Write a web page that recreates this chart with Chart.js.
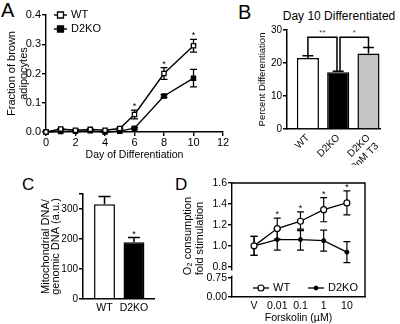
<!DOCTYPE html>
<html>
<head>
<meta charset="utf-8">
<script src="https://cdn.jsdelivr.net/npm/chart.js@4.4.1/dist/chart.umd.min.js"></script>
<style>
  body { margin: 0; background: #fff; }
  #fig { position: relative; width: 400px; height: 324px; overflow: hidden;
         font-family: 'Liberation Sans', Arial, Helvetica, sans-serif; color: #000; }
  #fig canvas { position: absolute; }
  .panel { position: absolute; line-height: 1; }
</style>
</head>
<body>
<div id="fig">
  <div class="panel" style="left:1px;top:0px;font-size:20px">A</div>
  <div class="panel" style="left:238px;top:2px;font-size:20px">B</div>
  <div class="panel" style="left:22px;top:176px;font-size:17px">C</div>
  <div class="panel" style="left:175px;top:176px;font-size:17px">D</div>
  <div class="panel" style="left:279px;top:10px;width:120px;text-align:center;font-size:12px">Day 10 Differentiated</div>
  <canvas id="cA" width="232" height="162" style="left:0;top:0"></canvas>
  <canvas id="cB" width="154" height="165" style="left:246px;top:0"></canvas>
  <canvas id="cC" width="170" height="159" style="left:0;top:165px"></canvas>
  <canvas id="cD" width="230" height="159" style="left:170px;top:165px"></canvas>
</div>
<script>
// ---- panel A: fraction of brown adipocytes over the differentiation time course
const aDays = [0, 1, 2, 3, 4, 5, 6, 8, 10];
const aWT = [0.000, 0.010, 0.006, 0.009, 0.006, 0.012, 0.060, 0.200, 0.295];
const aWTerr = [0, 0.002, 0.002, 0.002, 0.002, 0.002, 0.015, 0.020, 0.022];
const aKO = [0.000, 0.002, 0.003, 0.004, 0.000, 0.003, 0.013, 0.123, 0.184];
const aKOerr = [0, 0.001, 0.001, 0.001, 0.001, 0.001, 0.003, 0.005, 0.030];
const aStars = ['', '', '', '', '', '', '*', '*', '*'];
const aXTicks = [0, 2, 4, 6, 8, 10, 12];
const aYTicks = [0, 0.1, 0.2, 0.3, 0.4];

// ---- panel B: day 10 percent differentiation
const bGroups = ['WT', 'D2KO', ['D2KO', '+ 50nM T3']];
const bValues = [21.5, 17.2, 22.9];
const bErr = [0.7, 0.3, 1.8];
const bYTicks = [0, 10, 20, 30];
const bPairs = [[0, 1, '**'], [1, 2, '*']];
const bPairLevel = 27.8;

// ---- panel C: mitochondrial / genomic DNA
const cGroups = ['WT', 'D2KO'];
const cValues = [316, 189];
const cErr = [26, 16];
const cStars = ['', '*'];
const cYTicks = [0, 100, 200, 300, 350];

// ---- panel D: O2 consumption vs forskolin
const dDoses = ['V', '0.01', '0.1', '1', '10'];
const dWT = [1.00, 1.165, 1.235, 1.345, 1.41];
const dWTerr = [0.09, 0.10, 0.09, 0.115, 0.115];
const dKO = [1.00, 1.06, 1.06, 1.05, 0.94];
const dKOerr = [0.09, 0.10, 0.10, 0.10, 0.10];
const dStars = ['', '*', '*', '*', '*'];
const dYTicks = [0.8, 1.0, 1.2, 1.4, 1.6];
const dYLowTicks = [0, 0.75];
const dBreak = [0.765, 0.84];

Chart.defaults.font.family = "'Liberation Sans', Arial, Helvetica, sans-serif";
Chart.defaults.color = '#000';
Chart.defaults.animation = false;
Chart.defaults.plugins.legend.display = false;
Chart.defaults.plugins.tooltip.enabled = false;

const black = '#000';

function setTicks(list) {
  return s => { s.ticks = list.map(v => ({ value: v })); };
}

// error bars under the marks, stars above them
function marks(o) {
  return {
    id: 'marks',
    beforeDatasetsDraw(chart) {
      const ctx = chart.ctx;
      ctx.save();
      ctx.strokeStyle = black;
      ctx.lineWidth = o.lineWidth;
      o.errors.forEach((errs, di) => {
        const meta = chart.getDatasetMeta(di);
        const ys = chart.scales[meta.yAxisID];
        meta.data.forEach((pt, i) => {
          const e = errs[i];
          if (!e) return;
          const v = chart.data.datasets[di].data[i].y;
          const top = ys.getPixelForValue(v + e);
          const bot = o.upOnly ? ys.getPixelForValue(v) : ys.getPixelForValue(v - e);
          const w = o.cap / 2;
          ctx.beginPath();
          ctx.moveTo(pt.x, bot); ctx.lineTo(pt.x, top);
          ctx.moveTo(pt.x - w, top); ctx.lineTo(pt.x + w, top);
          if (!o.upOnly) { ctx.moveTo(pt.x - w, bot); ctx.lineTo(pt.x + w, bot); }
          ctx.stroke();
        });
      });
      ctx.restore();
    },
    afterDatasetsDraw(chart) {
      if (!o.stars) return;
      const ctx = chart.ctx;
      const di = o.starSet;
      const meta = chart.getDatasetMeta(di);
      const ys = chart.scales[meta.yAxisID];
      ctx.save();
      ctx.fillStyle = black;
      ctx.font = o.starFont;
      ctx.textAlign = 'center';
      ctx.textBaseline = 'alphabetic';
      meta.data.forEach((pt, i) => {
        if (!o.stars[i]) return;
        const v = chart.data.datasets[di].data[i].y + (o.errors[di][i] || 0);
        ctx.fillText(o.stars[i], pt.x, ys.getPixelForValue(v) - o.starGap);
      });
      ctx.restore();
    }
  };
}

// small legend drawn inside the plot area
function innerLegend(o) {
  return {
    id: 'innerLegend',
    afterDraw(chart) {
      const ctx = chart.ctx, a = chart.chartArea;
      ctx.save();
      ctx.font = o.font;
      ctx.textBaseline = 'middle';
      ctx.fillStyle = black;
      chart.data.datasets.forEach((ds, i) => {
        const x = a.left + o.dx + i * o.stepX;
        const y = (o.fromBottom ? a.bottom : a.top) + o.dy + i * o.stepY;
        ctx.strokeStyle = black;
        ctx.lineWidth = ds.borderWidth;
        ctx.beginPath(); ctx.moveTo(x, y); ctx.lineTo(x + o.len, y); ctx.stroke();
        const mx = x + o.len / 2, r = ds.pointRadius;
        ctx.lineWidth = ds.pointBorderWidth;
        ctx.fillStyle = ds.pointBackgroundColor;
        ctx.beginPath();
        if (ds.pointStyle === 'rect') ctx.rect(mx - r, y - r, 2 * r, 2 * r);
        else ctx.arc(mx, y, r, 0, Math.PI * 2);
        ctx.fill(); ctx.stroke();
        ctx.fillStyle = black;
        ctx.fillText(ds.label, x + o.len + o.gap, y);
      });
      ctx.restore();
    }
  };
}

function axisLines(width) {
  return {
    grid: { drawOnChartArea: false, color: black, lineWidth: width, tickLength: 4 },
    border: { color: black, width: width }
  };
}

// ---------------- A
new Chart(document.getElementById('cA'), {
  type: 'line',
  data: {
    datasets: [
      { label: 'WT', data: aDays.map((d, i) => ({ x: d, y: aWT[i] })),
        borderColor: black, borderWidth: 1.4, pointStyle: 'rect', pointRadius: 3,
        pointBackgroundColor: '#fff', pointBorderColor: black, pointBorderWidth: 1.3, clip: false },
      { label: 'D2KO', data: aDays.map((d, i) => ({ x: d, y: aKO[i] })),
        borderColor: black, borderWidth: 1.4, pointStyle: 'rect', pointRadius: 3,
        pointBackgroundColor: black, pointBorderColor: black, pointBorderWidth: 1.3, clip: false }
    ]
  },
  options: {
    responsive: false,
    layout: { padding: { top: 15, right: 9, left: 0, bottom: 0 } },
    scales: {
      x: { type: 'linear', min: 0, max: 12, afterBuildTicks: setTicks(aXTicks),
        ticks: { font: { size: 11 }, padding: 0, maxRotation: 0, autoSkip: false },
        ...axisLines(1.4),
        title: { display: true, text: 'Day of Differentiation', font: { size: 10.5 }, padding: { top: 0, bottom: 1 } },
        afterFit: s => { s.height = 30; } },
      y: { type: 'linear', min: 0, max: 0.4, afterBuildTicks: setTicks(aYTicks),
        ticks: { font: { size: 11 }, padding: 1, autoSkip: false, callback: v => v.toFixed(1) },
        ...axisLines(1.4),
        title: { display: true, text: ['Fraction of brown', 'adipocytes'], font: { size: 11, lineHeight: 1.1 }, padding: { top: 6 } },
        afterFit: s => { s.width = 46; } }
    }
  },
  plugins: [
    marks({ errors: [aWTerr, aKOerr], cap: 7, lineWidth: 1.3, stars: aStars, starSet: 0, starFont: '9px "Liberation Sans", Arial', starGap: 1 }),
    innerLegend({ font: '11px "Liberation Sans", Arial', dx: 8, dy: 0, stepX: 0, stepY: 14, len: 13, gap: 4 })
  ]
});

// ---------------- B
new Chart(document.getElementById('cB'), {
  type: 'bar',
  data: {
    datasets: [{
      data: bValues.map((v, i) => ({ x: i, y: v })),
      backgroundColor: ['#fff', black, '#c4c4c4'],
      borderColor: black, borderWidth: 1.5,
      barPercentage: 0.73, categoryPercentage: 1
    }]
  },
  options: {
    responsive: false,
    layout: { padding: { top: 30, right: 20, left: 0, bottom: 0 } },
    scales: {
      x: { type: 'linear', offset: false, min: -0.69, max: 2.38, afterBuildTicks: setTicks([0, 1, 2]),
        ticks: { callback: v => bGroups[v], minRotation: 45, maxRotation: 45, autoSkip: false, font: { size: 10 }, padding: 3 },
        grid: { display: false, drawTicks: false },
        border: { color: black, width: 1.5 },
        afterFit: s => { s.height = 36; } },
      y: { type: 'linear', min: 0, max: 30, afterBuildTicks: setTicks(bYTicks),
        ticks: { font: { size: 10 }, padding: 1, autoSkip: false },
        ...axisLines(1.5),
        title: { display: true, text: 'Percent Differentiation', font: { size: 9.5 }, padding: { top: 11 } },
        afterFit: s => { s.width = 41; } }
    }
  },
  plugins: [
    marks({ errors: [bErr], cap: 11, lineWidth: 1.5, upOnly: true }),
    {
      id: 'brackets',
      afterDatasetsDraw(chart) {
        const ctx = chart.ctx, xs = chart.scales.x, ys = chart.scales.y;
        const topOf = i => ys.getPixelForValue(bValues[i] + bErr[i]);
        const level = ys.getPixelForValue(bPairLevel);
        ctx.save();
        ctx.strokeStyle = black; ctx.lineWidth = 1.5;
        ctx.fillStyle = '#444';
        ctx.font = '8px "Liberation Sans", Arial';
        ctx.textAlign = 'center'; ctx.textBaseline = 'alphabetic';
        bPairs.forEach(([p, q, lab], k) => {
          const x1 = xs.getPixelForValue(p + (k === 1 ? 0.06 : 0));
          const x2 = xs.getPixelForValue(q - (k === 0 ? 0.04 : 0));
          ctx.beginPath();
          ctx.moveTo(x1, topOf(p)); ctx.lineTo(x1, level); ctx.lineTo(x2, level); ctx.lineTo(x2, topOf(q));
          ctx.stroke();
          ctx.fillText(lab, (x1 + x2) / 2, level - 2);
        });
        ctx.restore();
      }
    }
  ]
});

// ---------------- C
new Chart(document.getElementById('cC'), {
  type: 'bar',
  data: {
    datasets: [{
      data: cValues.map((v, i) => ({ x: i, y: v })),
      backgroundColor: ['#fff', black],
      borderColor: black, borderWidth: 1.5,
      barPercentage: 0.71, categoryPercentage: 1
    }]
  },
  options: {
    responsive: false,
    layout: { padding: { top: 29, right: 16, left: 0, bottom: 0 } },
    scales: {
      x: { type: 'linear', offset: false, min: -0.73, max: 1.68, afterBuildTicks: setTicks([0, 1]),
        ticks: { callback: v => cGroups[v], maxRotation: 0, autoSkip: false, font: { size: 10.5 }, padding: 3 },
        grid: { display: false, drawTicks: false },
        border: { color: black, width: 1.5 },
        afterFit: s => { s.height = 25; } },
      y: { type: 'linear', min: 0, max: 350, afterBuildTicks: setTicks(cYTicks),
        ticks: { font: { size: 10 }, padding: 1, autoSkip: false, callback: v => (v === 350 ? '' : v) },
        ...axisLines(1.5),
        title: { display: true, text: ['Mitochondrial DNA/', 'genomic DNA (a.u.)'], font: { size: 11, lineHeight: 0.92 }, padding: { top: 41 } },
        afterFit: s => { s.width = 83; } }
    }
  },
  plugins: [
    marks({ errors: [cErr], cap: 12, lineWidth: 1.5, upOnly: true, stars: cStars, starSet: 0, starFont: '9px "Liberation Sans", Arial', starGap: 1 })
  ]
});

// ---------------- D
new Chart(document.getElementById('cD'), {
  type: 'line',
  data: {
    datasets: [
      { label: 'WT', yAxisID: 'y', data: dWT.map((v, i) => ({ x: i + 1, y: v })),
        borderColor: black, borderWidth: 1.3, pointStyle: 'circle', pointRadius: 3,
        pointBackgroundColor: '#fff', pointBorderColor: black, pointBorderWidth: 1.2, clip: false },
      { label: 'D2KO', yAxisID: 'y', data: dKO.map((v, i) => ({ x: i + 1, y: v })),
        borderColor: black, borderWidth: 1.3, pointStyle: 'circle', pointRadius: 2,
        pointBackgroundColor: black, pointBorderColor: black, pointBorderWidth: 1, clip: false }
    ]
  },
  options: {
    responsive: false,
    layout: { padding: { top: 18, right: 35, left: 0, bottom: 0 } },
    scales: {
      x: { type: 'linear', min: 0.05, max: 5.78, afterBuildTicks: setTicks([1, 2, 3, 4, 5]),
        ticks: { callback: v => dDoses[v - 1], maxRotation: 0, autoSkip: false, font: { size: 10.5 }, padding: 3 },
        grid: { display: false, drawTicks: false },
        border: { color: black, width: 1.4 },
        title: { display: true, text: 'Forskolin (\u00b5M)', font: { size: 10.5 }, padding: { top: 0, bottom: 0 } },
        afterFit: s => { s.height = 27; } },
      yLow: { type: 'linear', position: 'left', stack: 'd', stackWeight: 1, min: 0, max: 0.86,
        afterBuildTicks: setTicks(dYLowTicks),
        ticks: { font: { size: 10.5 }, padding: 1, autoSkip: false, callback: v => v.toFixed(2) },
        ...axisLines(1.4),
        afterFit: s => { s.width = 62; } },
      y: { type: 'linear', position: 'left', stack: 'd', stackWeight: 4.23, min: 0.72, max: 1.6,
        afterBuildTicks: setTicks(dYTicks),
        ticks: { font: { size: 10.5 }, padding: 1, autoSkip: false, callback: v => v.toFixed(1) },
        ...axisLines(1.4),
        title: { display: true, text: ['O\u2082 consumption', 'fold stimulation'], align: 'start', font: { size: 11, lineHeight: 1.09 }, padding: { top: 12 } },
        afterFit: s => { s.width = 62; } }
    }
  },
  plugins: [
    marks({ errors: [dWTerr, dKOerr], cap: 7, lineWidth: 1.2, stars: dStars, starSet: 0, starFont: '9px "Liberation Sans", Arial', starGap: 1 }),
    innerLegend({ font: '11px "Liberation Sans", Arial', fromBottom: true, dx: 21, dy: -9, stepX: 55, stepY: 0, len: 16, gap: 4 }),
    {
      id: 'frameD',
      afterDraw(chart) {
        const ctx = chart.ctx, a = chart.chartArea, s = chart.scales;
        ctx.save();
        ctx.strokeStyle = black; ctx.lineWidth = 1.4;
        ctx.beginPath();
        ctx.moveTo(a.left, a.top); ctx.lineTo(a.right, a.top); ctx.lineTo(a.right, a.bottom);
        ctx.stroke();
        // gap in the y axis between the two segments
        const y1 = s.y.getPixelForValue(dBreak[0]);
        const y2 = s.yLow.getPixelForValue(dBreak[1]);
        ctx.fillStyle = '#fff';
        ctx.fillRect(a.left - 2, y1, 4, y2 - y1);
        ctx.restore();
      }
    }
  ]
});
</script>
</body>
</html>
